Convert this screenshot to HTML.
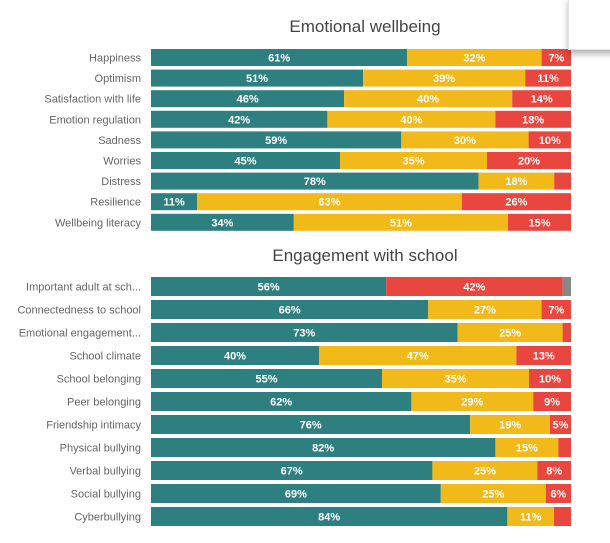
<!DOCTYPE html>
<html><head><meta charset="utf-8"><style>
body{margin:0;background:#fff;width:610px;height:538px;overflow:hidden;position:relative;font-family:"Liberation Sans",sans-serif}
.tip{position:absolute;left:568px;top:-2px;width:50px;height:50px;background:#fff;border:1px solid #e4e4e4;box-shadow:0 4px 6px rgba(0,0,0,0.3)}
</style></head><body>
<div class="tip"></div>
<svg id="c" width="610" height="538"></svg>
<script>
const cats1=["Happiness","Optimism","Satisfaction with life","Emotion regulation","Sadness","Worries","Distress","Resilience","Wellbeing literacy"];
const teal1=[61,51,46,42,59,45,78,11,34];
const yellow1=[32,39,40,40,30,35,18,63,51];
const red1=[7,11,14,18,10,20,4,26,15];
const gray1=[0,0,0,0,0,0,0,0,0];
const cats2=["Important adult at sch...","Connectedness to school","Emotional engagement...","School climate","School belonging","Peer belonging","Friendship intimacy","Physical bullying","Verbal bullying","Social bullying","Cyberbullying"];
const teal2=[56,66,73,40,55,62,76,82,67,69,84];
const yellow2=[0,27,25,47,35,29,19,15,25,25,11];
const red2=[42,7,2,13,10,9,5,3,8,6,4];
const gray2=[2,0,0,0,0,0,0,0,0,0,0];
const svg=document.getElementById('c');const NS="http://www.w3.org/2000/svg";
function mk(t,a){const e=document.createElementNS(NS,t);for(const k in a)e.setAttribute(k,a[k]);svg.appendChild(e);return e;}
const colors=["#2e8080","#f2b91b","#e8463f","#888888"];
function chart(title,ty,cats,series,y0,step,h,pre){
  const t=mk('text',{x:365,y:ty,'text-anchor':'middle','font-size':17,fill:'#444'});t.textContent=title;
  
  
  const x0=151,x1=571,W=x1-x0;
  cats.forEach((c,i)=>{
    const y=y0+i*step;
    const l=mk('text',{x:141,y:y+h/2+4,'text-anchor':'end','font-size':11,fill:'#666'});l.textContent=c;
    
    
    const tot=series.reduce((s,a)=>s+a[i],0);let acc=0;
    series.forEach((a,k)=>{
      const v=a[i];if(!v)return;
      const xs=x0+acc/tot*W,w=v/tot*W;acc+=v;
      const r=mk('rect',{x:xs,y:y,width:w,height:h,fill:colors[k]});
      
      
      if(v>=5&&k<3){const tx=mk('text',{x:xs+w/2,y:y+h/2+4,'text-anchor':'middle','font-size':11,'font-weight':'bold',fill:'#fff'});tx.textContent=v+'%';
        
        }
    });
  });
}
chart("Emotional wellbeing",32,cats1,[teal1,yellow1,red1,gray1],49,20.6,17,'wellbeing');
chart("Engagement with school",261,cats2,[teal2,yellow2,red2,gray2],277,23,19,'engagement');
</script>
</body></html>
